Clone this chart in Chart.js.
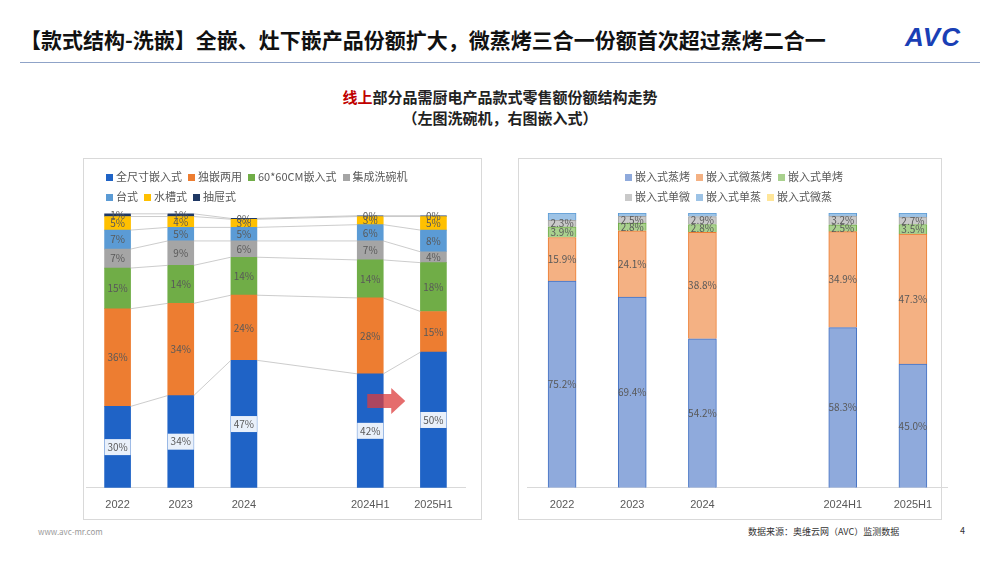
<!DOCTYPE html>
<html><head><meta charset="utf-8">
<script src="https://cdn.jsdelivr.net/npm/chart.js@4"></script>
<style>
body{margin:0;width:1000px;height:562px;background:#fff;font-family:"Noto Sans CJK SC","Noto Sans",sans-serif;position:relative;overflow:hidden}
.abs{position:absolute}
.panel{position:absolute;border:1px solid #d9d9d9;background:#fff}
.leg{position:absolute;font-size:11px;color:#595959;line-height:20px}
.leg span{display:inline-block;margin-right:6px;white-space:nowrap}
.leg i{display:inline-block;width:7px;height:7px;margin-right:3px;vertical-align:0px}
</style></head><body>
<div class="abs" style="left:20px;top:24px;font-size:21px;font-weight:bold;color:#111">【款式结构-洗嵌】全嵌、灶下嵌产品份额扩大，微蒸烤三合一份额首次超过蒸烤二合一</div>
<div class="abs" style="left:905px;top:22px;font-size:26px;font-weight:900;color:#1a3fb5;font-family:'Liberation Sans';font-style:italic;letter-spacing:1px">AVC</div>
<div class="abs" style="left:20px;top:62px;width:960px;height:1px;background:#8fa3c8"></div>
<div class="abs" style="left:0;width:1000px;top:86px;text-align:center;font-size:15px;font-weight:bold;color:#222;line-height:21px">
<span style="color:#c00000">线上</span>部分品需厨电产品款式零售额份额结构走势<br>（左图洗碗机，右图嵌入式）</div>
<div class="panel" style="left:83px;top:158px;width:397px;height:360px"></div>
<div class="panel" style="left:518px;top:158px;width:422px;height:360px"></div>
<div class="abs" style="left:83px;top:158px;width:398px;height:361px"><canvas id="c1"></canvas></div>
<div class="abs" style="left:518px;top:158px;width:430px;height:361px"><canvas id="c2"></canvas></div>
<div class="leg" style="left:106px;top:166px;width:330px" id="l1"></div>
<div class="leg" style="left:625px;top:166px;width:280px" id="l2"></div>
<div class="abs" style="left:38px;top:526px;font-size:8px;color:#999">www.avc-mr.com</div>
<div class="abs" style="left:748px;top:525px;font-size:9px;color:#333">数据来源：奥维云网（AVC）监测数据</div>
<div class="abs" style="left:960px;top:524px;font-size:9px;color:#333">4</div>
<script>
const cats=['2022','2023','2024','','2024H1','2025H1'];
const L_names=['全尺寸嵌入式','独嵌两用','60*60CM嵌入式','集成洗碗机','台式','水槽式','抽屉式'];
const L_colors=['#1f63c6','#ed7d31','#70ad47','#a5a5a5','#5b9bd5','#ffc000','#1f3864'];
const L_full=[30,34,47,null,42,50];
const L_dual=[36,34,24,null,28,15];
const L_6060=[15,14,14,null,14,18];
const L_int=[7,9,6,null,7,4];
const L_desk=[7,5,5,null,6,8];
const L_sink=[5,4,3,null,3,5];
const L_drawer=[1,1,0.3,null,0.3,0.3];
const L_lbl=[['30%','34%','47%','','42%','50%'],['36%','34%','24%','','28%','15%'],['15%','14%','14%','','14%','18%'],['7%','9%','6%','','7%','4%'],['7%','5%','5%','','6%','8%'],['5%','4%','3%','','3%','5%'],['1%','1%','0%','','0%','0%']];
const R_names=['嵌入式蒸烤','嵌入式微蒸烤','嵌入式单烤','嵌入式单微','嵌入式单蒸','嵌入式微蒸'];
const R_colors=['#8faadc','#f4b183','#a9d18e','#c9c9c9','#9dc3e6','#ffe699'];
const R_border=['#4472c4','#ed7d31','#70ad47','#a5a5a5','#5b9bd5','#ffc000'];
const R_zk=[75.2,69.4,54.2,null,58.3,45.0];
const R_wzk=[15.9,24.1,38.8,null,34.9,47.3];
const R_dk=[3.9,2.8,2.8,null,2.5,3.5];
const R_dw=[2.3,2.5,2.9,null,3.2,2.7];
const R_dz=[2.7,1.2,1.3,null,1.1,1.5];
const R_wz=[0.3,0.2,0.2,null,0.2,0.2];
const R_show=[true,true,true,true,false,false];

function legend(id,names,colors){document.getElementById(id).innerHTML=names.map((n,i)=>`<span><i style="background:${colors[i]}"></i>${n}</span>`).join('');}
legend('l1',L_names,L_colors);legend('l2',R_names,R_colors);

const labelPlugin=(lbls,fmt,whiteBg,connect)=>({id:'lbl',afterDatasetsDraw(ch){
 const c=ch.ctx;
 if(connect){c.save();c.strokeStyle='#bfbfbf';c.lineWidth=0.8;
  ch.data.datasets.forEach((d,di)=>{const m=ch.getDatasetMeta(di);
   for(let i=0;i<m.data.length-1;i++){let j=i+1;if(d.data[j]==null)j++;if(j>=m.data.length||d.data[i]==null)continue;
    const a=m.data[i],b=m.data[j];c.beginPath();c.moveTo(a.x+a.width/2,a.y);c.lineTo(b.x-b.width/2,b.y);c.stroke();if(j>i+1)i++;}});
  c.restore();}
 c.save();c.font='10px "Noto Sans CJK SC"';c.textAlign='center';c.textBaseline='middle';
 ch.data.datasets.forEach((d,di)=>{const m=ch.getDatasetMeta(di);m.data.forEach((e,i)=>{
  if(d.data[i]==null)return;const t=fmt(di,i);if(!t)return;const y=(e.y+e.base)/2;
  if(whiteBg&&di==0){c.fillStyle='rgba(255,255,255,0.9)';c.fillRect(e.x-13,y-8,26,16);}
  c.fillStyle='#595959';c.fillText(t,e.x,y);});});
 c.restore();}});

const arrow={id:'arr',afterDatasetsDraw(ch){const m=ch.getDatasetMeta(0);const b=m.data[4];
 const c=ch.ctx;c.save();c.fillStyle='rgba(220,60,60,0.75)';const y=ch.scales.y.getPixelForValue(32);const x1=b.x-b.width/2+10,x2=b.x+b.width/2+22;
 c.beginPath();c.moveTo(x1,y-7);c.lineTo(x2-14,y-7);c.lineTo(x2-14,y-13);c.lineTo(x2,y);c.lineTo(x2-14,y+13);c.lineTo(x2-14,y+7);c.lineTo(x1,y+7);c.closePath();c.fill();c.restore();}};

function opts(max,pl,pr){return{responsive:true,maintainAspectRatio:false,animation:false,
 layout:{padding:{top:55,left:pl,right:pr,bottom:4}},
 plugins:{legend:{display:false},tooltip:{enabled:false}},
 scales:{x:{stacked:true,grid:{display:false},border:{color:'#d9d9d9'},ticks:{color:'#595959',font:{size:11}}},
  y:{stacked:true,display:false,min:0,max:max}}};}

const Ldata=[L_full,L_dual,L_6060,L_int,L_desk,L_sink,L_drawer];
new Chart(document.getElementById('c1'),{type:'bar',
 data:{labels:cats,datasets:Ldata.map((d,i)=>({label:L_names[i],data:d,backgroundColor:L_colors[i],barThickness:26}))},
 options:opts(101.3,3,16),plugins:[labelPlugin(L_lbl,(di,i)=>L_lbl[di][i],true,true),arrow]});

const Rdata=[R_zk,R_wzk,R_dk,R_dw,R_dz,R_wz];
new Chart(document.getElementById('c2'),{type:'bar',
 data:{labels:cats,datasets:Rdata.map((d,i)=>({label:R_names[i],data:d,backgroundColor:R_colors[i],borderColor:R_border[i],borderWidth:1,barThickness:28}))},
 options:opts(100,9,0),plugins:[labelPlugin(null,(di,i)=>R_show[di]?Rdata[di][i].toFixed(1)+'%':'',false,false)]});
</script></body></html>
